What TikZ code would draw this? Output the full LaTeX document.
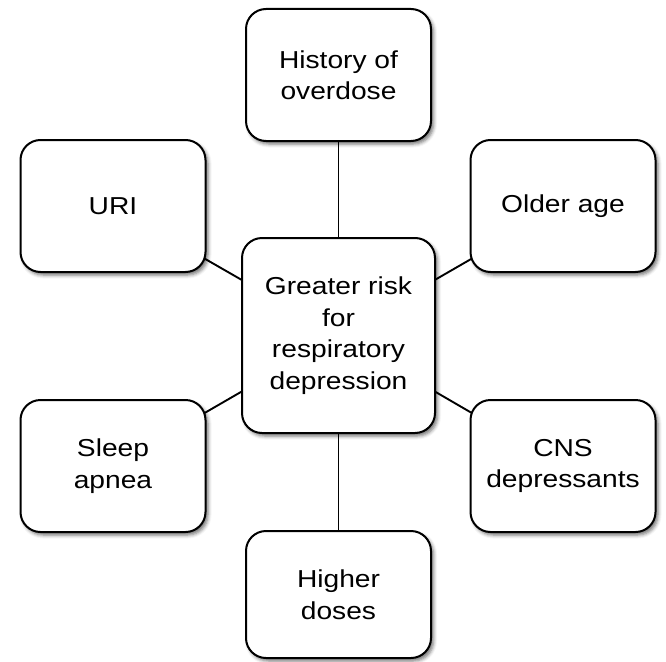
\documentclass[tikz,border=0pt]{standalone}
\usepackage{fontspec}
\setmainfont[FakeStretch=1.15]{Liberation Sans}
\usetikzlibrary{shadows.blur,backgrounds}
\begin{document}
\begin{tikzpicture}[x=1pt,y=1pt,
  factor/.style={draw=black, line width=2pt, fill=white, rounded corners=20pt,
    align=center, inner sep=0pt, font=\fontsize{24.5}{31.5}\selectfont,
    blur shadow={shadow xshift=2.5pt, shadow yshift=-3pt,
      shadow blur radius=3.5pt, shadow opacity=55}},
  side/.style={factor, minimum width=185pt, minimum height=132pt},
  link/.style={draw=black, line width=1.9pt}]
  \useasboundingbox (0,0) rectangle (666,-661);

  \node[factor, minimum width=193pt, minimum height=195pt] (c) at (338.5,-335.5)
    {Greater risk\\for\\respiratory\\depression};
  \node[side] (top) at (338.5,-75) {History of\\overdose};
  \node[side] (uri) at (113,-206) {URI};
  \node[side] (old) at (563,-206) {Older age};
  \node[side] (sleep) at (113,-466) {Sleep\\apnea};
  \node[side] (cns) at (563,-466) {CNS\\depressants};
  \node[side, minimum height=127pt] (dose) at (338.5,-594.5) {Higher\\doses};

  \begin{scope}[on background layer]
    \foreach \n in {top,uri,old,sleep,cns,dose}
      \draw[link] (c.center) -- (\n.center);
  \end{scope}
\end{tikzpicture}
\end{document}
